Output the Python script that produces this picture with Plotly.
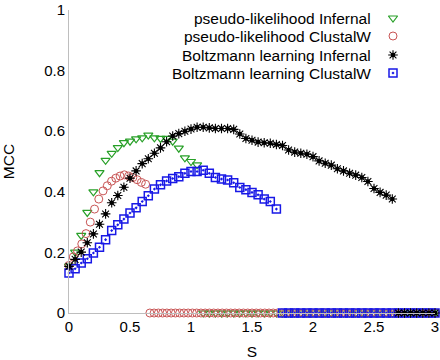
import plotly.graph_objects as go

# ---- data ----
S_GRID = [round(0.05 * i, 2) for i in range(61)]          # 0 .. 3 step 0.05
S_GRID_RED = [round(3 * i / 86, 4) for i in range(87)]     # 0 .. 3 finer grid

pl_infernal = [0.155, 0.201, 0.256, 0.332, 0.400, 0.463, 0.504, 0.527, 0.546, 0.562,
               0.567, 0.575, 0.578, 0.587, 0.578, 0.576, 0.576, 0.567, 0.544, 0.512,
               0.500, 0.489] + [0.0] * 39

pl_clustalw = [0.157, 0.185, 0.205, 0.228, 0.262, 0.300, 0.343, 0.376, 0.403, 0.420,
               0.435, 0.445, 0.452, 0.456, 0.452, 0.447, 0.440, 0.431, 0.425] + [0.0] * 68

bl_infernal = [0.154, 0.177, 0.201, 0.232, 0.261, 0.293, 0.327, 0.364, 0.388, 0.415,
               0.445, 0.469, 0.493, 0.509, 0.527, 0.545, 0.565, 0.584, 0.592, 0.600,
               0.607, 0.613, 0.613, 0.611, 0.609, 0.609, 0.609, 0.606, 0.591, 0.576,
               0.570, 0.564, 0.562, 0.560, 0.556, 0.553, 0.538, 0.531, 0.527, 0.524,
               0.516, 0.502, 0.494, 0.488, 0.476, 0.469, 0.461, 0.455, 0.447, 0.434,
               0.411, 0.398, 0.389, 0.376] + [0.0] * 7

bl_clustalw = [0.132, 0.146, 0.165, 0.179, 0.198, 0.217, 0.242, 0.272, 0.291, 0.310,
               0.330, 0.347, 0.368, 0.387, 0.409, 0.423, 0.436, 0.444, 0.450, 0.461,
               0.467, 0.467, 0.471, 0.461, 0.447, 0.442, 0.439, 0.430, 0.414, 0.407,
               0.398, 0.390, 0.376, 0.368, 0.343] + [0.0] * 26

legend_labels = ["pseudo-likelihood Infernal", "pseudo-likelihood ClustalW",
                 "Boltzmann learning Infernal", "Boltzmann learning ClustalW"]

x_ticks = [0, 0.5, 1, 1.5, 2, 2.5, 3]
x_ticktext = ["0", "0.5", "1", "1.5", "2", "2.5", "3"]
y_ticks = [0, 0.2, 0.4, 0.6, 0.8, 1]
y_ticktext = ["0", "0.2", "0.4", "0.6", "0.8", "1"]

# ---- styles ----
GREEN = "rgb(40,160,40)"
RED = "rgb(200,85,85)"
BLACK = "rgb(0,0,0)"
BLUE = "rgb(25,25,230)"
FONT = "Liberation Sans, Arial, sans-serif"
FS = 15

styles = [
    dict(symbol="triangle-down-open", size=8, color=GREEN, line=dict(width=1.2, color=GREEN)),
    dict(symbol="circle-open", size=8, color=RED, line=dict(width=1, color=RED)),
    dict(symbol="asterisk-open", size=8, color=BLACK, line=dict(width=1.1, color=BLACK)),
    dict(symbol="square-open-dot", size=8, color=BLUE, line=dict(width=1.5, color=BLUE)),
]
DOT = dict(symbol="circle", size=4.5, color=BLACK)

fig = go.Figure()

fig.add_trace(go.Scatter(x=S_GRID, y=pl_infernal, mode="markers", marker=styles[0],
                         cliponaxis=False, showlegend=False))
fig.add_trace(go.Scatter(x=S_GRID_RED, y=pl_clustalw, mode="markers", marker=styles[1],
                         cliponaxis=False, showlegend=False))
fig.add_trace(go.Scatter(x=S_GRID, y=bl_clustalw, mode="markers", marker=styles[3],
                         cliponaxis=False, showlegend=False))
fig.add_trace(go.Scatter(x=S_GRID, y=bl_infernal, mode="markers", marker=styles[2],
                         cliponaxis=False, showlegend=False))
fig.add_trace(go.Scatter(x=S_GRID, y=bl_infernal, mode="markers", marker=DOT,
                         cliponaxis=False, showlegend=False))

# ---- custom legend (markers to the right of right-aligned text), pixel overlay axes ----
PLOT_L, PLOT_R, PLOT_T, PLOT_B = 69, 435, 10, 313
leg_rows_y = [18, 36, 55, 73]
leg_text_x = 373
leg_mark_x = 393
for i, lab in enumerate(legend_labels):
    fig.add_trace(go.Scatter(x=[leg_mark_x], y=[leg_rows_y[i]], mode="markers",
                             marker=styles[i], xaxis="x2", yaxis="y2",
                             cliponaxis=False, showlegend=False, hoverinfo="skip"))
    if i == 2:
        fig.add_trace(go.Scatter(x=[leg_mark_x], y=[leg_rows_y[i]], mode="markers",
                                 marker=DOT, xaxis="x2", yaxis="y2", cliponaxis=False,
                                 showlegend=False, hoverinfo="skip"))
    fig.add_annotation(x=leg_text_x, y=leg_rows_y[i], xref="x2", yref="y2",
                       text=lab, showarrow=False, xanchor="right", yanchor="middle",
                       font=dict(family=FONT, size=15.5, color="black"))

fig.update_layout(
    width=440, height=360,
    margin=dict(l=PLOT_L, r=440 - PLOT_R, t=PLOT_T, b=360 - PLOT_B),
    paper_bgcolor="white", plot_bgcolor="white",
    font=dict(family=FONT, size=FS, color="black"),
    xaxis=dict(range=[0, 3], tickvals=x_ticks, ticktext=x_ticktext,
               showgrid=False, zeroline=False, showline=True, linecolor="rgb(190,190,190)",
               linewidth=1, ticks="", ticklen=0, automargin=False,
               title=dict(text="S", font=dict(size=15.5), standoff=12)),
    yaxis=dict(range=[0, 1], tickvals=y_ticks, ticktext=y_ticktext,
               showgrid=False, zeroline=False, showline=True, linecolor="rgb(190,190,190)",
               linewidth=1, ticks="", ticklen=0, automargin=False,
               title=dict(text="MCC", font=dict(size=15.5), standoff=26)),
    xaxis2=dict(range=[PLOT_L, PLOT_R], overlaying="x", visible=False, fixedrange=True),
    yaxis2=dict(range=[PLOT_B, PLOT_T], overlaying="y", visible=False, fixedrange=True),
)

fig.write_html("out.html")
